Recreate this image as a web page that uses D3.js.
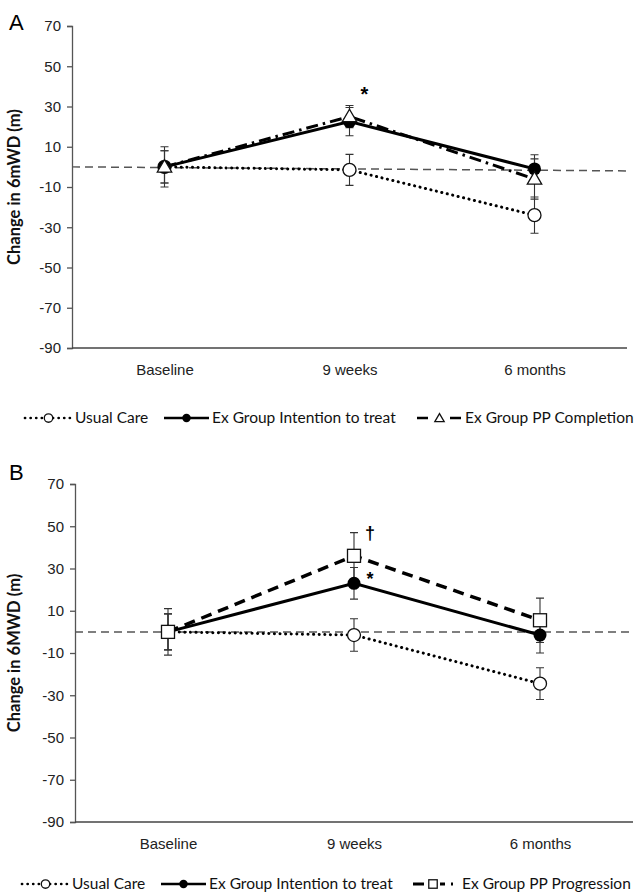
<!DOCTYPE html>
<html>
<head>
<meta charset="utf-8">
<script src="https://cdn.jsdelivr.net/npm/d3@7"></script>
<style>
  body { margin: 0; background: #fff; }
  svg { font-family: Lato, "Open Sans", sans-serif; }
  .tick text { font-size: 15px; fill: #222; }
  .legend text { font-size: 15.5px; fill: #111; }
</style>
</head>
<body>
<script>
// time points and y ticks shared by both panels
const timepoints = ["Baseline", "9 weeks", "6 months"];
const yTicks = [-90, -70, -50, -30, -10, 10, 30, 50, 70];

// panel A: mean change and error
const careA = [0, -1.5, -24];
const careErrA = [8, 7.7, 9];
const ittA = [0, 22.5, -1];
const ittErrA = [8, 7, 7];
const completionA = [0, 25, -6];
const completionErrA = [10, 5.5, 10];
const refA = [0, -2];

// panel B
const careB = [0, -1.5, -24.5];
const careErrB = [8.5, 7.7, 7.5];
const ittB = [0, 23, -1.5];
const ittErrB = [8.5, 7.5, 8.5];
const progressionB = [0, 36, 5.5];
const progressionErrB = [11, 11, 10.5];
const refB = [0, 0];

const legendNames = ["Usual Care", "Ex Group Intention to treat"];

const svg = d3.select("body").append("svg")
  .attr("width", 637)
  .attr("height", 896);

const lineStyles = {
  dotted: { width: 3, dash: "0.1 5.5", cap: "round" },
  solid: { width: 3, dash: null, cap: "butt" },
  dashdot: { width: 3, dash: "12 5 2.5 5", cap: "butt" },
  dashed: { width: 3.5, dash: "11 7", cap: "butt" },
};

function drawMarker(g, type, x, y, small) {
  const k = small ? 0.65 : 1;
  if (type == "open") {
    g.append("circle").attr("cx", x).attr("cy", y).attr("r", 6.5 * k)
      .attr("fill", "#fff").attr("stroke", "#111").attr("stroke-width", 1.3);
  } else if (type == "filled") {
    g.append("circle").attr("cx", x).attr("cy", y).attr("r", 6.5 * k)
      .attr("fill", "#000");
  } else if (type == "triangle") {
    g.append("path")
      .attr("d", d3.symbol(d3.symbolTriangle, 90 * k * k)())
      .attr("transform", `translate(${x},${y + 1})`)
      .attr("fill", "#fff").attr("stroke", "#111").attr("stroke-width", 1.3);
  } else if (type == "square") {
    const s = 13 * k;
    g.append("rect").attr("x", x - s / 2).attr("y", y - s / 2)
      .attr("width", s).attr("height", s)
      .attr("fill", "#fff").attr("stroke", "#111").attr("stroke-width", 1.3);
  }
}

function drawPanel(p) {
  const x = d3.scalePoint().domain(timepoints)
    .range([p.left, p.right]).padding(0.5);
  const y = d3.scaleLinear().domain([-90, 70]).range([p.bottom, p.top]);
  const g = svg.append("g");

  // y axis
  const yAxis = g.append("g")
    .attr("transform", `translate(${p.left},0)`)
    .call(d3.axisLeft(y).tickValues(yTicks).tickSize(5).tickPadding(6)
      .tickFormat((d) => String(d)));
  yAxis.selectAll("line, path").attr("stroke", "#555").attr("stroke-width", 1.3);

  // x axis
  const xAxis = g.append("g")
    .attr("transform", `translate(0,${p.bottom})`)
    .call(d3.axisBottom(x).tickSize(0).tickPadding(16));
  xAxis.select(".domain")
    .attr("d", `M${p.left},0H${p.right}`)
    .attr("stroke", "#444").attr("stroke-width", 1.5);

  g.append("text")
    .attr("transform", `translate(20,${(p.top + p.bottom) / 2}) rotate(-90)`)
    .attr("text-anchor", "middle")
    .attr("font-weight", "bold")
    .attr("font-size", 16.5)
    .attr("fill", "#111")
    .text(p.yLabel);

  g.append("text")
    .attr("x", 9).attr("y", p.letterY)
    .attr("font-size", 22)
    .attr("font-family", "'Liberation Sans', Arial, sans-serif")
    .text(p.letter);

  // reference line at no change
  g.append("line")
    .attr("x1", p.left).attr("x2", p.right)
    .attr("y1", y(p.ref[0])).attr("y2", y(p.ref[1]))
    .attr("stroke", "#555").attr("stroke-width", 1.5)
    .attr("stroke-dasharray", "8 5");

  // error bars
  p.series.forEach((s) => {
    s.values.forEach((v, i) => {
      const cx = x(timepoints[i]);
      const lo = y(v - s.err[i]);
      const hi = y(v + s.err[i]);
      g.append("path")
        .attr("d", `M${cx},${lo}V${hi}M${cx - 4},${lo}H${cx + 4}M${cx - 4},${hi}H${cx + 4}`)
        .attr("stroke", "#333").attr("stroke-width", 1.1).attr("fill", "none");
    });
  });

  const line = d3.line()
    .x((d, i) => x(timepoints[i]))
    .y((d) => y(d));

  p.series.forEach((s) => {
    const st = lineStyles[s.line];
    g.append("path")
      .datum(s.values)
      .attr("d", line)
      .attr("fill", "none")
      .attr("stroke", "#000")
      .attr("stroke-width", st.width)
      .attr("stroke-dasharray", st.dash)
      .attr("stroke-linecap", st.cap);
  });

  p.series.forEach((s) => {
    s.values.forEach((v, i) => drawMarker(g, s.marker, x(timepoints[i]), y(v), false));
  });

  p.notes.forEach((n) => {
    g.append("text")
      .attr("x", x(n.time) + n.dx)
      .attr("y", y(n.value))
      .attr("dy", "0.35em")
      .attr("text-anchor", "middle")
      .attr("font-family", "'Liberation Sans', Arial, sans-serif")
      .attr("font-size", n.size)
      .attr("font-weight", "bold")
      .attr("fill", "#000")
      .text(n.label);
  });

  // legend
  const lg = g.append("g").attr("class", "legend");
  p.series.forEach((s, i) => {
    const x0 = p.legendX[i];
    const w = s.legendWidth;
    const st = lineStyles[s.line];
    lg.append("line")
      .attr("x1", x0).attr("x2", x0 + w)
      .attr("y1", p.legendY).attr("y2", p.legendY)
      .attr("stroke", "#000")
      .attr("stroke-width", st.width * 0.9)
      .attr("stroke-dasharray", s.legendDash || st.dash)
      .attr("stroke-linecap", st.cap);
    drawMarker(lg, s.marker, x0 + (s.markerAt || w / 2), p.legendY, true);
    lg.append("text")
      .attr("x", x0 + w + 3)
      .attr("y", p.legendY)
      .attr("dy", "0.35em")
      .attr("font-size", s.legendSize || null)
      .text(s.name);
  });
}

drawPanel({
  letter: "A", letterY: 30,
  left: 72, right: 627, top: 26, bottom: 348,
  yLabel: "Change in 6mWD (m)",
  ref: refA,
  legendY: 418,
  legendX: [25, 164, 417],
  series: [
    { name: legendNames[0], values: careA, err: careErrA, line: "dotted", marker: "open", legendWidth: 47 },
    { name: legendNames[1], values: ittA, err: ittErrA, line: "solid", marker: "filled", legendWidth: 45 },
    { name: "Ex Group PP Completion", values: completionA, err: completionErrA, line: "dashdot", marker: "triangle", legendWidth: 45, legendDash: "11 22" },
  ],
  notes: [{ label: "*", time: "9 weeks", value: 36, dx: 15, size: 20 }],
});

drawPanel({
  letter: "B", letterY: 480,
  left: 75, right: 633, top: 484, bottom: 822,
  yLabel: "Change in 6MWD (m)",
  ref: refB,
  legendY: 884,
  legendX: [22, 161, 413],
  series: [
    { name: legendNames[0], values: careB, err: careErrB, line: "dotted", marker: "open", legendWidth: 47 },
    { name: legendNames[1], values: ittB, err: ittErrB, line: "solid", marker: "filled", legendWidth: 45 },
    { name: "Ex Group PP Progression", values: progressionB, err: progressionErrB, line: "dashed", marker: "square", legendWidth: 46, markerAt: 20, legendDash: "11 16 5 6 2 40", legendSize: 15 },
  ],
  notes: [
    { label: "*", time: "9 weeks", value: 25, dx: 16, size: 18 },
    { label: "\u2020", time: "9 weeks", value: 47, dx: 16, size: 18 },
  ],
});
</script>
</body>
</html>
